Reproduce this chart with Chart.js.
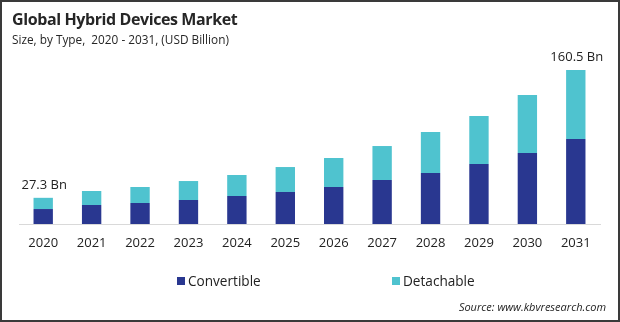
<!DOCTYPE html>
<html>
<head>
<meta charset="utf-8">
<script src="https://cdn.jsdelivr.net/npm/chart.js@4"></script>
<style>
  html, body { margin: 0; padding: 0; background: #fff; }
  #wrap { position: relative; width: 620px; height: 322px; overflow: hidden; font-family: "Open Sans", sans-serif; }
  #c { position: absolute; left: 0; top: 0; }
  #frame { position: absolute; left: 0; top: 0; width: 620px; height: 322px; box-sizing: border-box; border: 2px solid #3a3a3a; pointer-events: none; }
  .title { position: absolute; left: 12px; top: 8px; font-size: 16px; letter-spacing: -0.4px; font-weight: 700; color: #262626; white-space: nowrap; }
  .sub { position: absolute; left: 12px; top: 31px; font-size: 11.8px; color: #262626; white-space: nowrap; }
  .leg { position: absolute; top: 271px; font-size: 13.6px; color: #222; white-space: nowrap; display: flex; align-items: center; }
  .leg span.sq { display: inline-block; width: 8px; height: 8px; margin-right: 3px; }
  .src { position: absolute; right: 14px; top: 299px; font-size: 11px; font-style: italic; color: #222; white-space: nowrap; }
</style>
</head>
<body>
<div id="wrap">
  <canvas id="c" width="620" height="322"></canvas>
  <div class="title">Global Hybrid Devices Market</div>
  <div class="sub">Size, by Type,&nbsp; 2020 - 2031, (USD Billion)</div>
  <div class="leg" style="left:177px"><span class="sq" style="background:#293790"></span>Convertible</div>
  <div class="leg" style="left:392px"><span class="sq" style="background:#4FC3CF"></span>Detachable</div>
  <div class="src">Source: www.kbvresearch.com</div>
  <div id="frame"></div>
</div>
<script>
const years = ['2020','2021','2022','2023','2024','2025','2026','2027','2028','2029','2030','2031'];
const convertible = [15.6, 19.8, 21.9, 25.0, 29.2, 33.4, 38.6, 45.9, 53.2, 62.5, 74.0, 88.6];
const detachable  = [11.7, 14.6, 16.7, 19.8, 21.9, 26.0, 30.2, 35.4, 42.7, 50.1, 60.4, 71.9];
const labelledYears = ['2020', '2031'];

const totalLabels = {
  id: 'totalLabels',
  afterDatasetsDraw(chart) {
    const ctx = chart.ctx;
    const meta = chart.getDatasetMeta(1);
    ctx.save();
    ctx.font = '13px "Open Sans", sans-serif';
    ctx.fillStyle = '#222';
    ctx.textAlign = 'center';
    ctx.textBaseline = 'bottom';
    years.forEach((y, i) => {
      if (!labelledYears.includes(y)) return;
      const el = meta.data[i];
      const total = (convertible[i] + detachable[i]).toFixed(1);
      ctx.fillText(total + ' Bn', el.x + 1, el.y - 6);
    });
    ctx.restore();
  }
};

new Chart(document.getElementById('c'), {
  type: 'bar',
  data: {
    labels: years,
    datasets: [
      { label: 'Convertible', data: convertible, backgroundColor: '#293790', barPercentage: 0.4, categoryPercentage: 1 },
      { label: 'Detachable', data: detachable, backgroundColor: '#4FC3CF', barPercentage: 0.4, categoryPercentage: 1 }
    ]
  },
  options: {
    responsive: false,
    animation: false,
    devicePixelRatio: 1,
    layout: { padding: { left: 19, right: 20, top: 60, bottom: 68 } },
    plugins: { legend: { display: false }, tooltip: { enabled: false } },
    scales: {
      x: {
        stacked: true,
        grid: { display: false, drawTicks: false },
        border: { display: true, color: '#d9d9d9', width: 1 },
        ticks: { color: '#222', font: { family: '"Open Sans", sans-serif', size: 13 }, padding: 11, maxRotation: 0 },
        afterFit(s) { s.height = 30; }
      },
      y: {
        stacked: true,
        display: false,
        min: 0,
        max: 171
      }
    }
  },
  plugins: [totalLabels]
});
</script>
</body>
</html>
